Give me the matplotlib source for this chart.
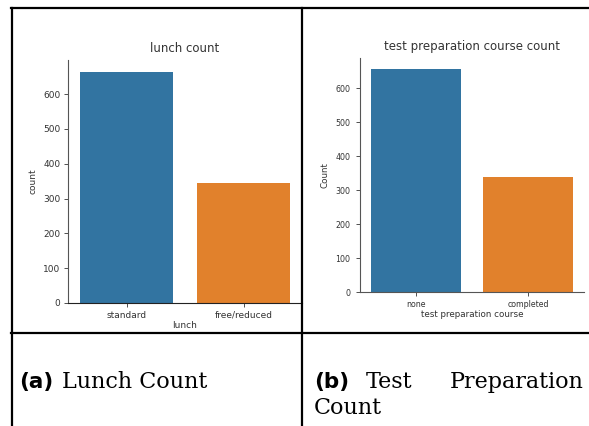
import matplotlib
matplotlib.use("Agg")
import matplotlib.pyplot as plt
from matplotlib.lines import Line2D

# values
lunch_cats = ["standard", "free/reduced"]
lunch_counts = [665, 345]
prep_cats = ["none", "completed"]
prep_counts = [657, 340]
yticks = [0, 100, 200, 300, 400, 500, 600]
bar_colors = ["#3274a1", "#e1812c"]

W, H = 589, 426
fig = plt.figure(figsize=(W / 100, H / 100), dpi=100)


def px_axes(x0, y0, x1, y1):
    # pixel box (top-left origin) -> figure fraction axes
    return fig.add_axes([x0 / W, 1 - y1 / H, (x1 - x0) / W, (y1 - y0) / H])


def countplot(ax, cats, vals, title, xlabel, ylabel, tick_fs, label_fs):
    ax.bar(range(len(cats)), vals, width=0.8, color=bar_colors)
    ax.set_xlim(-0.5, len(cats) - 0.5)
    ax.set_ylim(0, max(vals) * 1.05)
    ax.set_xticks(range(len(cats)))
    ax.set_xticklabels(cats)
    ax.set_yticks(yticks)
    ax.tick_params(labelsize=tick_fs, length=3, width=0.6, colors="#333333", pad=2.5)
    ax.set_title(title, fontsize=8.5, color="#333333", pad=6)
    ax.set_xlabel(xlabel, fontsize=label_fs, color="#333333", labelpad=1)
    ax.set_ylabel(ylabel, fontsize=label_fs, color="#333333", labelpad=4)
    for s in ("top", "right"):
        ax.spines[s].set_visible(False)
    for s in ("left", "bottom"):
        ax.spines[s].set_linewidth(0.8)
        ax.spines[s].set_color("#555555")


ax1 = px_axes(68, 60, 302, 303)
countplot(ax1, lunch_cats, lunch_counts, "lunch count", "lunch", "count", 6.5, 6.5)
ax1.spines["bottom"].set_color("#222222")

ax2 = px_axes(360, 58, 584, 292)
countplot(ax2, prep_cats, prep_counts, "test preparation course count",
          "test preparation course", "Count", 5.7, 6.3)
ax2.tick_params(axis="y", pad=4)

# table grid around the two panels
def hline(y, x0, x1):
    fig.add_artist(Line2D([x0 / W, x1 / W], [1 - y / H, 1 - y / H], color="black", lw=1.6))


def vline(x, y0, y1):
    fig.add_artist(Line2D([x / W, x / W], [1 - y0 / H, 1 - y1 / H], color="black", lw=1.6))


hline(8, 11, W)
hline(333, 11, W)
vline(12, 8, H)
vline(302, 8, H)

# captions
cap_fs = 16
base1 = 1 - 388 / H
base2 = 1 - 414 / H
fig.text(19 / W, base1, "(a)", fontsize=cap_fs - 0.5, fontweight="bold", family="DejaVu Sans", va="baseline")
fig.text(62 / W, base1, "Lunch Count", fontsize=cap_fs, family="DejaVu Serif", va="baseline")
fig.text(314 / W, base1, "(b)", fontsize=cap_fs - 0.5, fontweight="bold", family="DejaVu Sans", va="baseline")
fig.text(366 / W, base1, "Test", fontsize=cap_fs, family="DejaVu Serif", va="baseline")
fig.text(584 / W, base1, "Preparation", fontsize=cap_fs, family="DejaVu Serif", va="baseline", ha="right")
fig.text(314 / W, base2, "Count", fontsize=cap_fs, family="DejaVu Serif", va="baseline")

fig.savefig("out.png", dpi=100)
